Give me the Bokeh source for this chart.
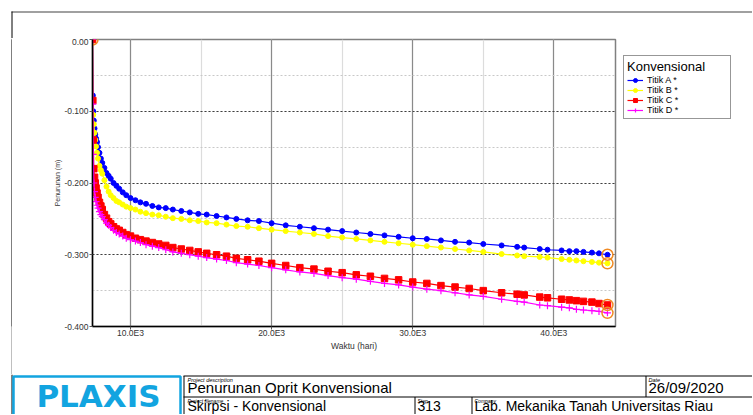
from bokeh.plotting import figure
from bokeh.layouts import column, row
from bokeh.models import (Range1d, SingleIntervalTicker, CustomJSTickFormatter,
                          Legend, LegendItem, ColumnDataSource, Spacer)
from bokeh.core.properties import value
from bokeh.embed import file_html
from bokeh.resources import INLINE

FONT = "Liberation Sans"

# ---------------- data ----------------
waktu = [7307, 7330, 7360, 7400, 7450, 7500, 7560, 7630, 7700, 7800,
         7900, 8000, 8150, 8300, 8450, 8600, 8800, 9000, 9200, 9450,
         9700, 10000, 10350, 10700, 11100, 11550, 12000, 12500, 13000, 13600,
         14200, 14800, 15400, 16100, 16800, 17500, 18300, 19100, 20000, 21000,
         22000, 23000, 24000, 25000, 26000, 27000, 28000, 29000, 30000, 31000,
         32000, 33000, 34000, 35000, 36300, 37400, 37900, 39000, 39550, 40550,
         41100, 41600, 42100, 42700, 43200, 43800]

titik_a = [0.000, -0.078, -0.100, -0.113, -0.124, -0.132, -0.138, -0.143, -0.150, -0.158,
           -0.166, -0.172, -0.179, -0.186, -0.190, -0.194, -0.200, -0.204, -0.208, -0.213,
           -0.217, -0.221, -0.224, -0.227, -0.229, -0.232, -0.234, -0.235, -0.237, -0.239,
           -0.241, -0.243, -0.244, -0.246, -0.248, -0.250, -0.252, -0.253, -0.256, -0.259,
           -0.261, -0.263, -0.265, -0.267, -0.269, -0.271, -0.273, -0.275, -0.277, -0.278,
           -0.280, -0.282, -0.283, -0.285, -0.287, -0.289, -0.290, -0.292, -0.293, -0.294,
           -0.295, -0.295, -0.296, -0.297, -0.298, -0.300]

titik_b = [0.000, -0.085, -0.105, -0.118, -0.130, -0.140, -0.149, -0.158, -0.166, -0.176,
           -0.182, -0.187, -0.196, -0.205, -0.212, -0.217, -0.221, -0.225, -0.227, -0.230,
           -0.233, -0.235, -0.237, -0.240, -0.242, -0.244, -0.245, -0.247, -0.249, -0.250,
           -0.252, -0.253, -0.255, -0.256, -0.258, -0.260, -0.261, -0.263, -0.265, -0.267,
           -0.269, -0.271, -0.274, -0.276, -0.278, -0.280, -0.282, -0.284, -0.286, -0.288,
           -0.290, -0.292, -0.294, -0.296, -0.299, -0.301, -0.302, -0.303, -0.304, -0.306,
           -0.307, -0.308, -0.309, -0.310, -0.311, -0.312]

titik_c = [0.000, -0.085, -0.140, -0.180, -0.192, -0.200, -0.207, -0.214, -0.220, -0.227,
           -0.232, -0.237, -0.244, -0.249, -0.254, -0.257, -0.261, -0.264, -0.266, -0.269,
           -0.272, -0.274, -0.277, -0.279, -0.281, -0.283, -0.285, -0.287, -0.290, -0.292,
           -0.294, -0.296, -0.298, -0.300, -0.302, -0.305, -0.307, -0.309, -0.312, -0.315,
           -0.318, -0.320, -0.323, -0.325, -0.328, -0.330, -0.333, -0.335, -0.338, -0.340,
           -0.343, -0.345, -0.347, -0.350, -0.353, -0.355, -0.356, -0.359, -0.360, -0.362,
           -0.363, -0.364, -0.365, -0.366, -0.368, -0.370]

titik_d = [0.000, -0.090, -0.160, -0.200, -0.212, -0.220, -0.226, -0.231, -0.235, -0.240,
           -0.244, -0.247, -0.251, -0.256, -0.259, -0.262, -0.266, -0.269, -0.271, -0.274,
           -0.277, -0.279, -0.281, -0.283, -0.286, -0.288, -0.290, -0.293, -0.296, -0.298,
           -0.300, -0.302, -0.304, -0.306, -0.308, -0.311, -0.313, -0.315, -0.318, -0.321,
           -0.324, -0.326, -0.329, -0.332, -0.334, -0.337, -0.340, -0.342, -0.345, -0.348,
           -0.350, -0.353, -0.356, -0.358, -0.362, -0.365, -0.366, -0.370, -0.371, -0.373,
           -0.374, -0.376, -0.377, -0.378, -0.379, -0.381]

series_names = ["Titik A *", "Titik B *", "Titik C *", "Titik D *"]
series_colors = ["#0000ff", "#ffff00", "#ff0000", "#ff00ff"]
series_markers = ["circle", "circle", "square", "cross"]

legend_title = "Konvensional"
x_label = "Waktu (hari)"
y_label = "Penurunan (m)"

title_block = {
    "desc_label": "Project description", "desc": "Penurunan Oprit Konvensional",
    "date_label": "Date", "date": "26/09/2020",
    "file_label": "Project filename", "file": "Skirpsi - Konvensional",
    "step_label": "Step", "step": "313",
    "company_label": "Company", "company": "Lab. Mekanika Tanah Universitas Riau",
}

# ---------------- layout sizes (pixels) ----------------
W = 752          # total width
TOP_H = 38       # strip above the chart
CH = 336         # chart row height
TH = 40          # title block height
LEFT_PAD = 16    # spacer + frame bar + spacer
CHART_W = 601
LEG_W = W - LEFT_PAD - CHART_W
MB_TOP, MB_BOTTOM = 1, 48


def strip(w, h):
    return figure(width=w, height=h, x_range=Range1d(0, w), y_range=Range1d(h, 0),
                  output_backend="svg", toolbar_location=None, min_border=0,
                  x_axis_type=None, y_axis_type=None, outline_line_color=None)


# ---------------- top strip (outer frame) ----------------
top = strip(W, TOP_H)
top.segment(x0=[11], y0=[11.5], x1=[W], y1=[11.5], line_color="#808080", line_width=1.5)
top.segment(x0=[11.5], y0=[11], x1=[11.5], y1=[TOP_H], line_color="black", line_width=1)

# 1px black bar = left edge of the outer frame beside the chart
bar = figure(width=1, height=CH, output_backend="svg", toolbar_location=None, min_border=0,
             x_axis_type=None, y_axis_type=None, outline_line_color=None,
             background_fill_color="black", border_fill_color="black")

# ---------------- chart ----------------
chart = figure(width=CHART_W, height=CH, x_range=Range1d(7307, 44370), y_range=Range1d(-0.4, 0),
               output_backend="svg", toolbar_location=None,
               min_border_left=76, min_border_right=2,
               min_border_top=MB_TOP, min_border_bottom=MB_BOTTOM,
               x_axis_label=x_label, y_axis_label=y_label)
chart.outline_line_color = "#808080"
chart.outline_line_width = 1.5

chart.xaxis.ticker = SingleIntervalTicker(interval=10000, num_minor_ticks=2)
chart.yaxis.ticker = SingleIntervalTicker(interval=0.1, num_minor_ticks=2)
chart.xaxis.formatter = CustomJSTickFormatter(code="return (tick/1000).toFixed(1) + 'E3';")
chart.yaxis.formatter = CustomJSTickFormatter(
    code="if (Math.abs(tick) < 1e-9) { return '0.00'; } return tick.toFixed(3);")

for ax in (chart.xaxis[0], chart.yaxis[0]):
    ax.axis_line_color = "black"
    ax.axis_line_width = 1.5
    ax.major_tick_line_color = "#555555"
    ax.major_tick_out = 3
    ax.major_tick_in = 0
    ax.minor_tick_line_color = None
    ax.major_label_text_font = FONT
    ax.major_label_text_font_size = "8.5px"
    ax.major_label_text_color = "#333333"
    ax.axis_label_text_font = FONT
    ax.axis_label_text_font_style = "normal"
    ax.axis_label_text_color = "#333333"
chart.xaxis.major_label_standoff = -3
chart.yaxis.major_label_standoff = 0
chart.xaxis.axis_label_text_font_size = "8.5px"
chart.yaxis.axis_label_text_font_size = "7px"
chart.xaxis.axis_label_standoff = 0
chart.yaxis.axis_label_standoff = 0

chart.xgrid.grid_line_color = "#8a8a8a"
chart.xgrid.grid_line_width = 1.2
chart.xgrid.minor_grid_line_color = "#dcdcdc"
chart.xgrid.minor_grid_line_width = 1.2
chart.ygrid.grid_line_color = "#404040"
chart.ygrid.grid_line_dash = "2 2"
chart.ygrid.minor_grid_line_color = "#c8c8c8"
chart.ygrid.minor_grid_line_dash = "2 2"

src = ColumnDataSource(dict(waktu=waktu, a=titik_a, b=titik_b, c=titik_c, d=titik_d))


def draw_series(fig, source, xcol, ycol, colr, mk):
    ln = fig.line(x=xcol, y=ycol, source=source, line_color=colr, line_width=1.2)
    if mk == "cross":
        sc = fig.scatter(x=xcol, y=ycol, source=source, marker="cross", size=7,
                         line_color=colr, line_width=1.2)
    elif mk == "square":
        sc = fig.scatter(x=xcol, y=ycol, source=source, marker="square", size=6.5,
                         fill_color=colr, line_color=colr)
    else:
        sc = fig.scatter(x=xcol, y=ycol, source=source, marker="circle", size=5,
                         fill_color=colr, line_color=colr)
    return ln, sc


for col, colr, mk in zip(["a", "b", "c", "d"], series_colors, series_markers):
    draw_series(chart, src, "waktu", col, colr, mk)

# highlighted curve points (start and ends)
ends_x = [waktu[0], waktu[-1], waktu[-1], waktu[-1], waktu[-1]]
ends_y = [titik_a[0], titik_a[-1], titik_b[-1], titik_c[-1], titik_d[-1]]
chart.scatter(x=ends_x, y=ends_y, marker="circle", size=11, fill_color=None,
              line_color="#f08a24", line_width=1.5)

# ---------------- legend panel right of the chart (same frame rows) ----------------
# The legend's renderers reuse the series data; this panel's ranges keep them out of view,
# so only the legend box is seen here.
lf = figure(width=LEG_W, height=CH, x_range=Range1d(0, 1), y_range=Range1d(0, 1),
            output_backend="svg", toolbar_location=None,
            min_border_left=0, min_border_right=0,
            min_border_top=MB_TOP, min_border_bottom=MB_BOTTOM,
            x_axis_type=None, y_axis_type=None, outline_line_color=None)
items = []
for name, col, colr, mk in zip(series_names, ["a", "b", "c", "d"], series_colors, series_markers):
    ln, sc = draw_series(lf, src, "waktu", col, colr, mk)
    items.append(LegendItem(label=name, renderers=[ln, sc]))

legend = Legend(items=items, title=legend_title, location=(6, 207),
                title_text_font=FONT, title_text_font_size="13px",
                title_text_font_style="normal", title_text_color="black", title_standoff=1,
                label_text_font=FONT, label_text_font_size="9px", label_text_color="black",
                label_height=10, label_width=80, label_standoff=4,
                glyph_height=10, glyph_width=16, spacing=0, padding=3, margin=0,
                border_line_color="#303030", border_line_width=1,
                background_fill_color="white", background_fill_alpha=1)
lf.add_layout(legend)

# ---------------- title block ----------------
tb = strip(W, TH)
tb.segment(x0=[11.5], y0=[0], x1=[11.5], y1=[TH], line_color="black", line_width=1)
tb.quad(left=[13], right=[180], top=[2], bottom=[70], fill_color=None,
        line_color="#12a4e0", line_width=2.5)
tb.text(x=[98], y=[21], text=["PLAXIS"], text_font=value("DejaVu Sans"),
        text_font_style="bold", text_font_size=value("31px"), text_color="#12a4e0",
        text_align="center", text_baseline="middle")
tb.segment(x0=[183, 183, 183.5, 645.5, 414.5, 471.5],
           y0=[1.5, 22.5, 1.5, 1.5, 22.5, 22.5],
           x1=[W, W, 183.5, 645.5, 414.5, 471.5],
           y1=[1.5, 22.5, TH, 22.5, TH, TH],
           line_color="black", line_width=1)
tb.text(x=[187, 648], y=[2.5, 2.5],
        text=[title_block["desc_label"], title_block["date_label"]],
        text_font=value(FONT), text_font_style="italic", text_font_size=value("5.5px"),
        text_color="black", text_align="left", text_baseline="top")
tb.text(x=[187, 417, 474], y=[23, 23, 23],
        text=[title_block["file_label"], title_block["step_label"], title_block["company_label"]],
        text_font=value(FONT), text_font_style="italic", text_font_size=value("5px"),
        text_color="black", text_align="left", text_baseline="top")
tb.text(x=[187, 648], y=[12.5, 12.5],
        text=[title_block["desc"], title_block["date"]],
        text_font=value(FONT), text_font_size=value("15px"),
        text_color="black", text_align="left", text_baseline="middle")
tb.text(x=[187, 417, 474], y=[31.8, 31.8, 31.8],
        text=[title_block["file"], title_block["step"], title_block["company"]],
        text_font=value(FONT), text_font_size=value("14px"),
        text_color="black", text_align="left", text_baseline="middle")

middle = row(Spacer(width=11, height=CH), bar, Spacer(width=4, height=CH), chart, lf)
layout = column(top, middle, tb)
open("out.html", "w").write(file_html(layout, INLINE))
